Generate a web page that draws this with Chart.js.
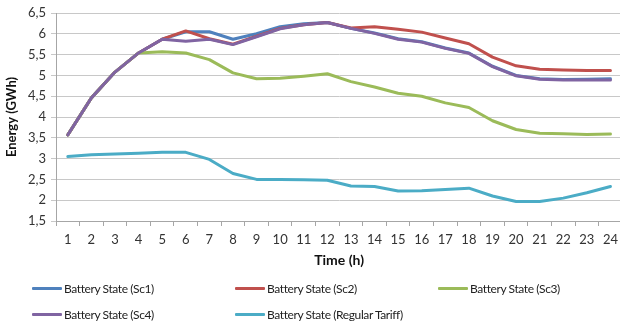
<!DOCTYPE html>
<html>
<head>
<meta charset="utf-8">
<script src="https://cdn.jsdelivr.net/npm/chart.js@4.4.0/dist/chart.umd.min.js"></script>
<style>
  body { margin: 0; background: #fff; }
  #wrap { position: relative; width: 620px; height: 327px; overflow: hidden; }
  #chart { position: absolute; left: 0; top: 0; }
  .leg { position: absolute; display: flex; align-items: center; font: 12px Lato, sans-serif; letter-spacing: -0.4px; color: #222; white-space: nowrap; }
  .leg span.line { display: inline-block; width: 30px; height: 3px; margin-right: 2px; border-radius: 1px; }
</style>
</head>
<body>
<div id="wrap">
  <canvas id="chart" width="624" height="327"></canvas>
  <div id="legend"></div>
</div>
<script>
// hours on the x axis
const hours = ['1','2','3','4','5','6','7','8','9','10','11','12','13','14','15','16','17','18','19','20','21','22','23','24'];
const yTickLabels = ['1,5','2','2,5','3','3,5','4','4,5','5','5,5','6','6,5'];

// battery state per scenario (GWh)
const sc1 = [3.57, 4.46, 5.08, 5.54, 5.87, 6.05, 6.05, 5.87, 6.0, 6.17, 6.24, 6.27, 6.13, 6.02, 5.88, 5.81, 5.66, 5.54, 5.22, 5.0, 4.92, 4.9, 4.91, 4.92];
const sc2 = [3.57, 4.46, 5.08, 5.54, 5.87, 6.07, 5.88, 5.75, 5.94, 6.13, 6.22, 6.27, 6.14, 6.17, 6.11, 6.04, 5.9, 5.76, 5.44, 5.23, 5.15, 5.13, 5.12, 5.12];
const sc3 = [3.57, 4.46, 5.08, 5.54, 5.57, 5.54, 5.38, 5.06, 4.92, 4.93, 4.98, 5.04, 4.85, 4.72, 4.57, 4.5, 4.34, 4.23, 3.91, 3.7, 3.61, 3.6, 3.58, 3.59];
const sc4 = [3.57, 4.46, 5.08, 5.54, 5.87, 5.82, 5.87, 5.74, 5.93, 6.12, 6.22, 6.27, 6.13, 6.01, 5.87, 5.8, 5.65, 5.53, 5.21, 4.99, 4.91, 4.89, 4.89, 4.89];
const regularTariff = [3.05, 3.09, 3.11, 3.13, 3.15, 3.15, 2.98, 2.64, 2.5, 2.5, 2.49, 2.48, 2.34, 2.33, 2.22, 2.23, 2.26, 2.29, 2.1, 1.97, 1.97, 2.05, 2.18, 2.33];

const seriesNames = ['Battery State (Sc1)', 'Battery State (Sc2)', 'Battery State (Sc3)', 'Battery State (Sc4)', 'Battery State (Regular Tariff)'];
const seriesColors = ['#4F81BD', '#C0504D', '#9BBB59', '#8064A2', '#4BACC6'];
const seriesData = [sc1, sc2, sc3, sc4, regularTariff];

const gridColor = '#c8c8c8';
const axisColor = '#a6a6a6';
const font = 'Lato, sans-serif';

const datasets = seriesData.map((d, i) => ({
    label: seriesNames[i],
    data: d,
    borderColor: seriesColors[i],
    backgroundColor: seriesColors[i],
    borderWidth: 3,
    pointRadius: 0,
    tension: 0,
    borderJoinStyle: 'round',
    borderCapStyle: 'round',
    order: seriesData.length - i   // later series on top, like Excel
}));

new Chart(document.getElementById('chart'), {
    type: 'line',
    data: { labels: hours, datasets: datasets },
    options: {
        responsive: false,
        animation: false,
        layout: { padding: { top: 13, bottom: 54, left: 0, right: 0 } },
        plugins: { legend: { display: false }, tooltip: { enabled: false } },
        scales: {
            x: {
                offset: true,
                grid: { drawOnChartArea: false, drawTicks: true, tickLength: 5, offset: true, color: axisColor },
                border: { color: axisColor },
                ticks: { color: '#333', font: { family: font, size: 13 }, padding: 6, maxRotation: 0, autoSkip: false },
                title: { display: true, text: 'Time (h)', color: '#111', font: { family: font, size: 14, weight: 'bold' }, padding: { top: 0, bottom: 4 } },
                afterFit: s => { s.height = 52; }
            },
            y: {
                min: 1.5,
                max: 6.5,
                ticks: {
                    stepSize: 0.5,
                    color: '#333',
                    font: { family: font, size: 13 },
                    padding: 5,
                    callback: (v, i) => yTickLabels[i]
                },
                grid: { color: gridColor, tickLength: 5 },
                border: { color: axisColor },
                title: { display: true, text: 'Energy (GWh)', color: '#111', font: { family: font, size: 13, weight: 'bold' }, padding: { top: 4, bottom: 0 } },
                afterFit: s => { s.width = 56; }
            }
        }
    }
});

// legend in three columns, as in the original
const legendPos = [[32, 288], [235, 288], [438, 288], [32, 314], [235, 314]];
const legendDiv = document.getElementById('legend');
seriesNames.forEach((name, i) => {
    const item = document.createElement('div');
    item.className = 'leg';
    item.style.left = legendPos[i][0] + 'px';
    item.style.top = (legendPos[i][1] - 9) + 'px';
    item.style.height = '18px';
    item.innerHTML = `<span class="line" style="background:${seriesColors[i]}"></span>${name}`;
    legendDiv.appendChild(item);
});
</script>
</body>
</html>
